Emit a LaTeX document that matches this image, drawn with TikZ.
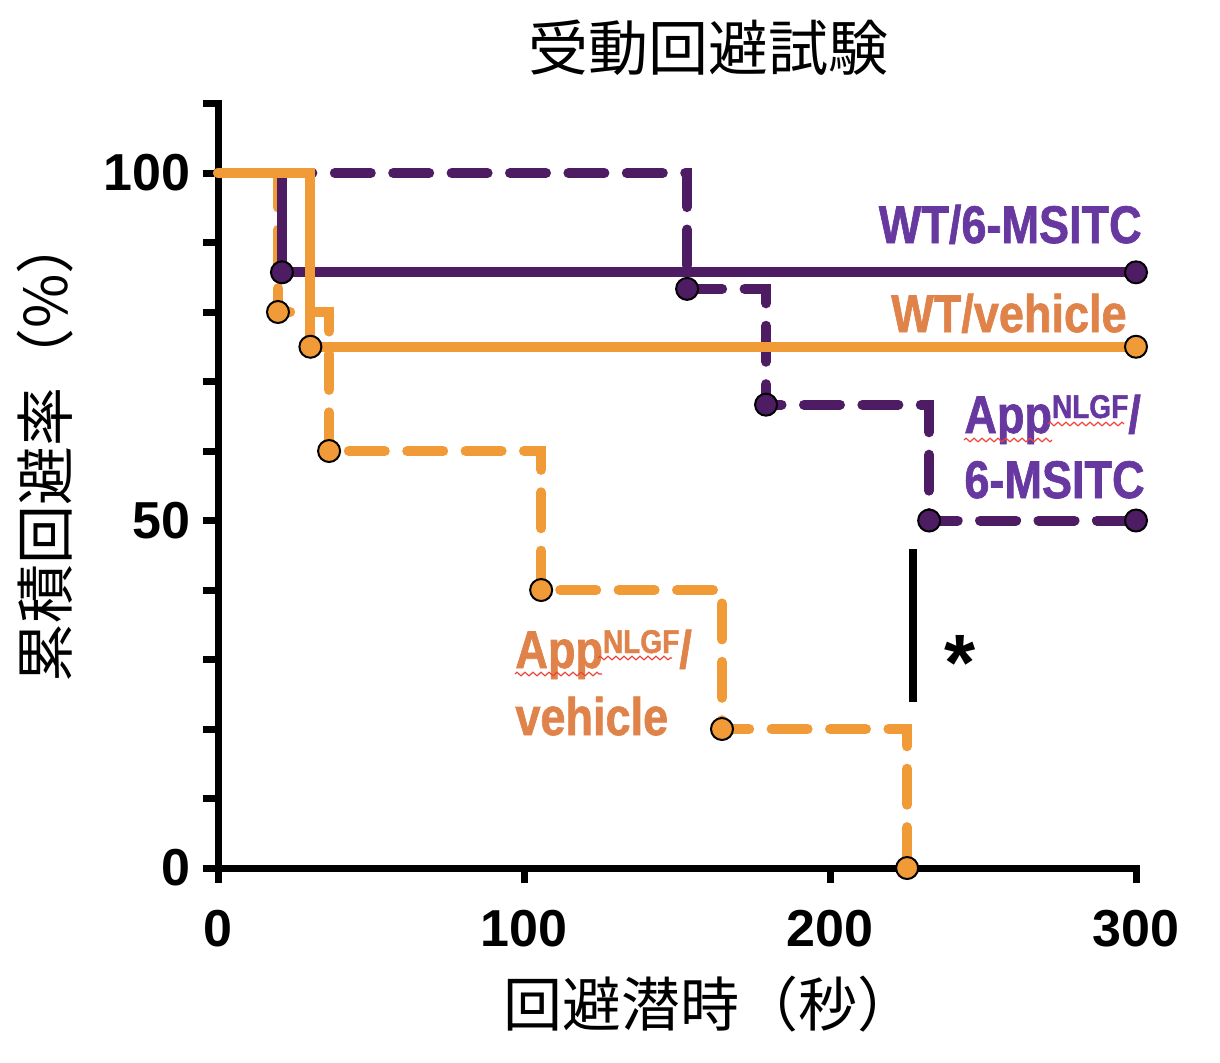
\documentclass[tikz,border=0pt]{standalone}
\usepackage{fontspec}
\setmainfont{Liberation Sans}
\newfontfamily\jpfont{Noto Sans CJK JP}
\newfontfamily\lblfont[FakeStretch=0.85, FakeBold=1.2]{Liberation Sans}
\usetikzlibrary{decorations.pathmorphing}
\definecolor{purpleLine}{HTML}{4E1C63}
\definecolor{purpleText}{HTML}{6739A0}
\definecolor{orangeLine}{HTML}{F09A38}
\definecolor{orangeText}{HTML}{E0834A}
\definecolor{squig}{HTML}{E8443A}
\tikzset{
  curve/.style={line width=5pt, line cap=round, line join=miter},
  dashcurve/.style={curve, dash pattern=on 18pt off 11.2pt},
  mk/.style={circle, draw=black, line width=1pt, minimum size=11pt, inner sep=0pt},
  axisline/.style={line width=3.5pt, line join=miter},
  numlabel/.style={font=\fontsize{26}{26}\selectfont\bfseries, inner sep=0pt},
  grplabel/.style={font=\lblfont\fontsize{26.5}{26.5}\selectfont\bfseries, inner sep=0pt},
  jplabel/.style={font=\jpfont\fontsize{29.5}{29.5}\selectfont, inner sep=0pt},
  squiggle/.style={draw=squig, line width=0.6pt, decorate, decoration={zigzag, segment length=4pt, amplitude=0.9pt}}
}
\begin{document}
\begin{tikzpicture}[x=0.5pt,y=-0.5pt]
\useasboundingbox (0,0) rectangle (1220,1062);
% title
\node[jplabel, font=\jpfont\fontsize{30}{30}\selectfont] (title) at (708,48) {受動回避試験};
% axes
\draw[axisline] (218,100) -- (218,868) -- (1139.5,868);
\foreach \p in {0,10,...,110} \draw[line width=3.5pt] (218,{868-6.95*\p}) -- ++(-15,0);
\foreach \s in {0,100,200,300} \draw[line width=3.5pt] ({218+3.06*\s},868) -- ++(0,15);
% tick labels
\node[numlabel, anchor=east] (y100) at (191,173) {100};
\node[numlabel, anchor=east] (y50) at (191,520.5) {50};
\node[numlabel, anchor=east] (y0) at (191,868) {0};
\node[numlabel] (x0) at (218,929) {0};
\node[numlabel] (x100) at (524,929) {100};
\node[numlabel] (x200) at (830,929) {200};
\node[numlabel] (x300) at (1136,929) {300};
% axis titles
\node[jplabel, anchor=west] (xlab) at (503,1004) {回避潜時（秒）};
\node[jplabel, anchor=west, rotate=90] (ylab) at (45,683) {累積回避率（\%）};
% data
\begin{scope}[xshift=109pt, yshift=-434pt, x=1.53pt, y=3.475pt]
  \draw[dashcurve, purpleLine] (0,100) -- (153.3,100) -- (153.3,83.33) -- (179.1,83.33) -- (179.1,66.67) -- (232.4,66.67) -- (232.4,50) -- (300,50);
  \draw[dashcurve, orangeLine] (0,100) -- (19.6,100) -- (19.6,80) -- (36.3,80) -- (36.3,60) -- (105.6,60) -- (105.6,40) -- (164.7,40) -- (164.7,20) -- (225.2,20) -- (225.2,0);
  \draw[curve, purpleLine] (0,100) -- (20.9,100) -- (20.9,85.71) -- (300,85.71);
  \draw[curve, orangeLine] (0,100) -- (30.2,100) -- (30.2,75) -- (300,75);
  % markers
  \node[mk, fill=purpleLine] (pd1) at (153.3,83.33) {};
  \node[mk, fill=purpleLine] (pd2) at (179.1,66.67) {};
  \node[mk, fill=purpleLine] (pd3) at (232.4,50) {};
  \node[mk, fill=purpleLine] (pd4) at (300,50) {};
  \node[mk, fill=orangeLine] (od1) at (19.6,80) {};
  \node[mk, fill=orangeLine] (od2) at (36.3,60) {};
  \node[mk, fill=orangeLine] (od3) at (105.6,40) {};
  \node[mk, fill=orangeLine] (od4) at (164.7,20) {};
  \node[mk, fill=orangeLine] (od5) at (225.2,0) {};
  \node[mk, fill=purpleLine] (ps1) at (20.9,85.71) {};
  \node[mk, fill=purpleLine] (ps2) at (300,85.71) {};
  \node[mk, fill=orangeLine] (os1) at (30.2,75) {};
  \node[mk, fill=orangeLine] (os2) at (300,75) {};
\end{scope}
% significance
\coordinate (sigtop) at (913,549);
\coordinate (sigbot) at (913,702);
\draw[line width=4pt] (sigtop) -- (sigbot);
\node[font=\fontsize{40}{40}\selectfont\bfseries, inner sep=0pt, anchor=base] (star) at (960,690) {*};
% group labels
\node[grplabel, text=purpleText, anchor=base east] (lwt6) at (1142,243) {WT/6-MSITC};
\node[grplabel, text=orangeText, anchor=base east] (lwtv) at (1127,332) {WT/vehicle};
\node[grplabel, text=purpleText, anchor=base west] (lapp6a) at (964,433) {App\raisebox{7.5pt}{\fontsize{16.5}{16.5}\selectfont NLGF}/};
\node[grplabel, text=purpleText, anchor=base west] (lapp6b) at (964,498) {6-MSITC};
\node[grplabel, text=orangeText, anchor=base west] (lappva) at (515,668) {App\raisebox{7.5pt}{\fontsize{16.5}{16.5}\selectfont NLGF}/};
\node[grplabel, text=orangeText, anchor=base west] (lappvb) at (515,735) {vehicle};
% spell-check squiggles
\draw[squiggle] (964,440) -- (1052,440);
\draw[squiggle] (1048,424) -- (1124,424);
\draw[squiggle] (515,674) -- (602,674);
\draw[squiggle] (598,658) -- (672,658);
\end{tikzpicture}
\end{document}
